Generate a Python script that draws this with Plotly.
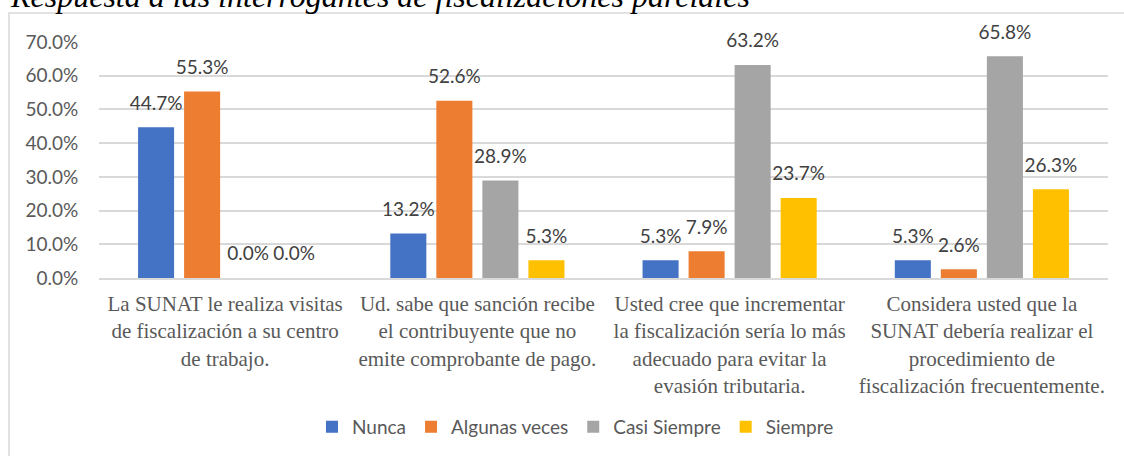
import plotly.graph_objects as go

categories = [
    "La SUNAT le realiza visitas<br>de fiscalización a su centro<br>de trabajo.",
    "Ud. sabe que sanción recibe<br>el contribuyente que no<br>emite comprobante de pago.",
    "Usted cree que incrementar<br>la fiscalización sería lo más<br>adecuado para evitar la<br>evasión tributaria.",
    "Considera usted que la<br>SUNAT debería realizar el<br>procedimiento de<br>fiscalización frecuentemente.",
]
series_names = ["Nunca", "Algunas veces", "Casi Siempre", "Siempre"]
nunca = [0.447, 0.132, 0.053, 0.053]
algunas_veces = [0.553, 0.526, 0.079, 0.026]
casi_siempre = [0.0, 0.289, 0.632, 0.658]
siempre = [0.0, 0.053, 0.237, 0.263]
series_values = [nunca, algunas_veces, casi_siempre, siempre]
colors = ["#4472C4", "#ED7D31", "#A5A5A5", "#FFC000"]
y_ticks = [0, 0.1, 0.2, 0.3, 0.4, 0.5, 0.6, 0.7]
title_text = "Respuesta a las interrogantes de fiscalizaciones parciales"

W, H = 1124, 456
L, R, T, B = 99, 16, 42, 178
pw, ph = W - L - R, H - T - B
GAP = 0.27

def px_to_paper_x(px):
    return (px - L) / pw

def px_to_paper_y(py):
    return (H - B - py) / ph

fig = go.Figure()
for name, vals, col in zip(series_names, series_values, colors):
    fig.add_trace(go.Bar(
        name=name, x=categories, y=vals, marker=dict(color=col, line=dict(width=0)),
        hovertemplate="%{y:.1%}<extra>" + name + "</extra>",
    ))
# data labels, grouped like the bars
for name, vals in zip(series_names, series_values):
    fig.add_trace(go.Scatter(
        x=categories, y=vals, mode="markers+text",
        marker=dict(size=19, opacity=0),
        text=[f"{v*100:.1f}%" for v in vals], textposition="top center",
        textfont=dict(family="Lato", size=19, color="#404040"),
        showlegend=False, hoverinfo="skip", cliponaxis=False,
    ))

fig.update_layout(
    width=W, height=H,
    margin=dict(l=L, r=R, t=T, b=B, autoexpand=False),
    paper_bgcolor="white", plot_bgcolor="white",
    barmode="group", bargap=GAP, bargroupgap=0.217,
    scattermode="group", scattergap=GAP,
    showlegend=True,
    legend=dict(orientation="h", xref="container", yref="container",
                x=0.512, xanchor="center", y=0.064, yanchor="middle",
                font=dict(family="Lato", size=19, color="#595959"),
                bgcolor="rgba(0,0,0,0)"),
    yaxis=dict(range=[0, 0.7], tickvals=y_ticks, tickformat=".1%",
               showgrid=True, gridcolor="#D9D9D9", gridwidth=1.5,
               zeroline=False, showline=False,
               ticks="outside", ticklen=16, tickcolor="rgba(0,0,0,0)",
               tickfont=dict(family="Lato", size=19, color="#595959"),
               automargin=False, fixedrange=True),
    xaxis=dict(showgrid=False, showline=True, linecolor="#D9D9D9", linewidth=1.5,
               ticks="outside", ticklen=6, tickcolor="rgba(0,0,0,0)",
               tickfont=dict(family="Liberation Serif", size=21, color="#595959"),
               automargin=False, fixedrange=True),
    font=dict(family="Lato"),
)

fig.add_shape(type="rect", xref="paper", yref="paper",
              x0=px_to_paper_x(9), x1=px_to_paper_x(1135),
              y0=px_to_paper_y(480), y1=px_to_paper_y(13),
              line=dict(color="#D9D9D9", width=1.5), fillcolor="rgba(0,0,0,0)", layer="below")

fig.add_annotation(text=f"<i>{title_text}</i>", xref="paper", yref="paper",
                   x=px_to_paper_x(8), xanchor="left",
                   y=px_to_paper_y(-4), yanchor="middle",
                   showarrow=False,
                   font=dict(family="Liberation Serif", size=32, color="#000000"))

fig.write_html("out.html", config={"displayModeBar": False},
               post_script="document.body.style.margin='0';document.body.style.overflow='hidden';")
